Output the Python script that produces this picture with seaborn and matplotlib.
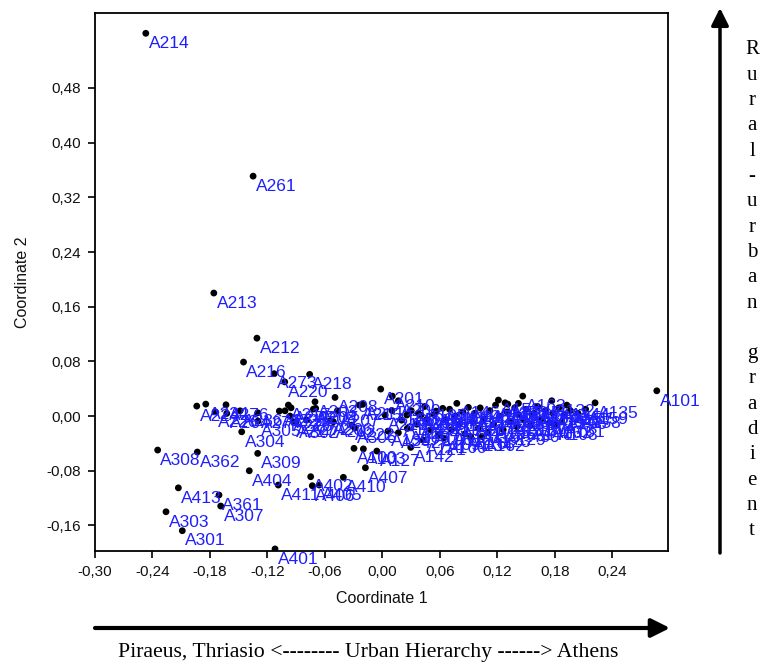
import matplotlib
matplotlib.use("Agg")
import matplotlib.pyplot as plt
import seaborn as sns
import pandas as pd

# ---------------- data ----------------
# outlying / labelled points
out_labels = ["A214", "A261", "A213", "A212", "A216", "A273", "A218", "A220",
              "A308", "A362", "A309", "A404", "A411", "A413", "A361", "A307",
              "A303", "A301", "A401", "A402", "A410", "A406", "A405", "A407",
              "A100", "A103", "A127", "A142", "A101", "A135"]
out_c1 = [-0.247, -0.135, -0.176, -0.131, -0.145, -0.113, -0.076, -0.102,
          -0.2346, -0.1932, -0.1302, -0.1390, -0.1087, -0.2130, -0.1706, -0.1688,
          -0.2259, -0.2089, -0.1121, -0.0749, -0.0408, -0.0732, -0.0660, -0.0178,
          -0.0297, -0.0199, -0.0059, 0.0295, 0.2863, 0.2219]
out_c2 = [0.560, 0.351, 0.180, 0.114, 0.079, 0.062, 0.061, 0.050,
          -0.0497, -0.0526, -0.0546, -0.0800, -0.1009, -0.1050, -0.1155, -0.1316,
          -0.1400, -0.1677, -0.1944, -0.0887, -0.0896, -0.1019, -0.1009, -0.0756,
          -0.0472, -0.0480, -0.0512, -0.0458, 0.0370, 0.0194]

# left cluster (Piraeus / Thriasio side)
left_labels = ["A224", "A234", "A226", "A276", "A264", "A236", "A304", "A274",
               "A305", "A271", "A217", "A275", "A225", "A302", "A272", "A203",
               "A204", "A205", "A221", "A227", "A206", "A208", "A207", "A211",
               "A215", "A202", "A222"]
left_c1 = [-0.1938, -0.1844, -0.1747, -0.1633, -0.1625, -0.1486, -0.1469, -0.1302,
           -0.1299, -0.1076, -0.0982, -0.0954, -0.0965, -0.0902, -0.0790, -0.0704,
           -0.0697, -0.0721, -0.1017, -0.0930, -0.0547, -0.0495, -0.0471, -0.0206,
           -0.0241, -0.0512, -0.0320]
left_c2 = [0.0146, 0.0175, 0.0063, 0.0165, 0.0039, 0.0077, -0.0230, 0.0048,
           -0.0073, 0.0073, 0.0161, 0.0121, 0.0000, -0.0102, -0.0058, 0.0209,
           0.0113, 0.0102, 0.0077, -0.0083, -0.0068, 0.0273, 0.0077, 0.0171,
           0.0161, -0.0083, -0.0132]

# central points
mid_labels = ["A219", "A201", "A210", "A209", "A306", "A139", "A230", "A231",
              "A232", "A233", "A240", "A241", "A242", "A121"]
mid_c1 = [0.0027, -0.0018, 0.0103, 0.0166, -0.0290, 0.0058, 0.0254, 0.0375,
          0.0400, 0.0462, 0.0560, 0.0629, 0.0166, 0.0424]
mid_c2 = [0.0015, 0.0395, 0.0292, 0.0224, -0.0175, -0.0220, 0.0015, 0.0039,
          0.0010, -0.0048, 0.0073, 0.0113, -0.0244, -0.0351]

# right cluster (Athens side)
right_labels = ["A144", "A163", "A153", "A150", "A151", "A148", "A132", "A145",
                "A146", "A430", "A161", "A108", "A134"]
right_c1 = [0.1924, 0.1464, 0.1210, 0.1280, 0.1308, 0.0897, 0.1767, 0.1419,
            0.0776, 0.1402, 0.1872, 0.1802, 0.0920]
right_c2 = [0.0160, 0.0292, 0.0234, 0.0194, 0.0175, 0.0127, 0.0224, 0.0186,
            0.0186, -0.0156, -0.0083, -0.0132, -0.0300]

# dense band of the Athens municipalities
band_labels = ["A102", "A104", "A105", "A106", "A107", "A109", "A110", "A111",
               "A112", "A113", "A114", "A115", "A116", "A117", "A118", "A119",
               "A120", "A122", "A123", "A124", "A125", "A126", "A128", "A129",
               "A130", "A131", "A133", "A136", "A137", "A138", "A140", "A141",
               "A143", "A147", "A149", "A152", "A154", "A155", "A156", "A157",
               "A158", "A159", "A160", "A162", "A164", "A165", "A166"]
band_c1 = [0.030, 0.036, 0.044, 0.050, 0.054, 0.058, 0.066, 0.070,
           0.072, 0.076, 0.080, 0.084, 0.086, 0.094, 0.096, 0.100,
           0.102, 0.106, 0.110, 0.112, 0.116, 0.118, 0.122, 0.126,
           0.130, 0.134, 0.138, 0.142, 0.148, 0.150, 0.154, 0.158,
           0.162, 0.166, 0.170, 0.174, 0.178, 0.184, 0.190, 0.196,
           0.204, 0.212, 0.064, 0.104, 0.020, 0.010, 0.026]
band_c2 = [0.008, -0.012, 0.014, -0.020, 0.002, -0.028, -0.006, 0.010,
           -0.020, 0.000, -0.012, 0.006, -0.026, -0.008, 0.004, -0.018,
           0.012, -0.004, -0.024, 0.008, -0.012, 0.016, 0.000, -0.020,
           0.006, -0.008, 0.012, 0.002, -0.006, 0.010, -0.014, 0.004,
           0.014, -0.004, 0.008, -0.010, 0.004, 0.012, 0.002, 0.008,
           0.004, 0.010, -0.032, -0.030, -0.006, 0.008, -0.018]

x_ticks = [-0.30, -0.24, -0.18, -0.12, -0.06, 0.00, 0.06, 0.12, 0.18, 0.24]
x_tick_labels = ["-0,30", "-0,24", "-0,18", "-0,12", "-0,06", "0,00", "0,06", "0,12", "0,18", "0,24"]
y_ticks = [-0.16, -0.08, 0.00, 0.08, 0.16, 0.24, 0.32, 0.40, 0.48]
y_tick_labels = ["-0,16", "-0,08", "0,00", "0,08", "0,16", "0,24", "0,32", "0,40", "0,48"]

x_title = "Coordinate 1"
y_title = "Coordinate 2"
bottom_caption = "Piraeus, Thriasio <-------- Urban Hierarchy ------> Athens"
side_caption = "Rural-urban gradient"

labels = out_labels + left_labels + mid_labels + right_labels + band_labels
c1 = out_c1 + left_c1 + mid_c1 + right_c1 + band_c1
c2 = out_c2 + left_c2 + mid_c2 + right_c2 + band_c2
df = pd.DataFrame({"label": labels, x_title: c1, y_title: c2})

# ---------------- plot ----------------
sns.set_style("ticks")
plt.rcParams["font.family"] = ["Liberation Sans", "DejaVu Sans"]

W, H = 762, 664
fig = plt.figure(figsize=(W / 100, H / 100), dpi=100)
ax = fig.add_axes([95 / W, 1 - 551 / H, (668 - 95) / W, (551 - 13) / H])

sns.scatterplot(data=df, x=x_title, y=y_title, color="black", s=24,
                edgecolor="none", ax=ax, legend=False, zorder=2)

for lab, xv, yv in zip(df["label"], df[x_title], df[y_title]):
    ax.annotate(lab, (xv, yv), xytext=(2.0, -2.0), textcoords="offset points",
                ha="left", va="top", color="#1e1eff", fontsize=12.5, zorder=3)

ax.set_xlim(-0.30, 0.298)
ax.set_ylim(-0.1974, 0.5897)
ax.set_xticks(x_ticks)
ax.set_xticklabels(x_tick_labels)
ax.set_yticks(y_ticks)
ax.set_yticklabels(y_tick_labels)
ax.tick_params(direction="out", length=5, width=1.2, labelsize=11, color="black",
               labelcolor="#111111", pad=5)
for sp in ax.spines.values():
    sp.set_visible(True)
    sp.set_color("black")
    sp.set_linewidth(1.3)

ax.set_xlabel(x_title, fontsize=11.5, labelpad=9, color="#111111")
ax.set_ylabel(y_title, fontsize=11.5, labelpad=12, color="#111111")

# bottom arrow and caption
ax.annotate("", xy=(670 / W, 1 - 628 / H), xytext=(95 / W, 1 - 628 / H),
            xycoords="figure fraction", textcoords="figure fraction",
            arrowprops=dict(arrowstyle="-|>", lw=3, color="black",
                            mutation_scale=28, shrinkA=0, shrinkB=0),
            annotation_clip=False)
fig.text(368 / W, 1 - 652 / H, bottom_caption, ha="center", va="center",
         fontsize=15.7, family=["Liberation Serif", "DejaVu Serif"], color="black")

# right arrow and stacked caption
ax.annotate("", xy=(720 / W, 1 - 8 / H), xytext=(720 / W, 1 - 553 / H),
            xycoords="figure fraction", textcoords="figure fraction",
            arrowprops=dict(arrowstyle="-|>", lw=2.5, color="black",
                            mutation_scale=26, shrinkA=0, shrinkB=0),
            annotation_clip=False)
letters = list(side_caption)
for i, ch in enumerate(letters):
    if ch == " ":
        continue
    fig.text(752 / W, 1 - (50 + i * 25.3) / H, ch, ha="center", va="center",
             fontsize=15, family=["Liberation Serif", "DejaVu Serif"], color="black")

fig.savefig("out.png", dpi=100)
